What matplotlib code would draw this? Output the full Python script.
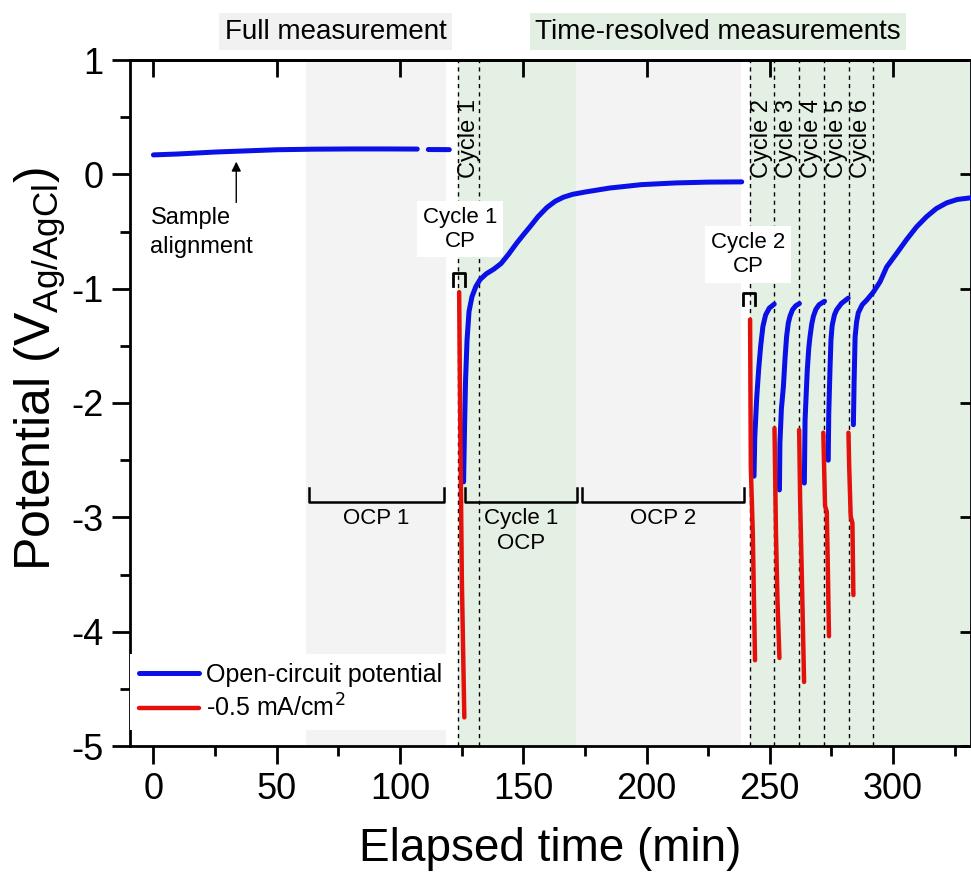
import matplotlib
matplotlib.use("Agg")
import matplotlib.pyplot as plt
from matplotlib.ticker import MultipleLocator, NullLocator

plt.rcParams['font.family'] = ['Liberation Sans', 'DejaVu Sans']
plt.rcParams['axes.unicode_minus'] = False

# --- data (time in min, potential in V vs Ag/AgCl) ---
# OCP during sample alignment (full measurement)
align_t = [0, 10, 25, 40, 50, 65, 80, 95, 107]
align_v = [0.17, 0.178, 0.195, 0.207, 0.215, 0.22, 0.222, 0.222, 0.221]
align2_t = [111.5, 120]
align2_v = [0.217, 0.216]

# OCP after cycle 1 CP, running through OCP 2
ocp1_t = [125.8, 126.2, 126.6, 127.2, 128.0, 129.2, 130.8, 132.5, 135, 138, 141, 144,
          147.4, 150, 152.8, 156, 159.6, 163, 166.3, 170, 175, 185, 198, 212, 225, 238.6]
ocp1_v = [-2.69, -2.2, -1.8, -1.45, -1.2, -1.07, -0.98, -0.92, -0.87, -0.83, -0.78, -0.70,
          -0.60, -0.53, -0.457, -0.37, -0.29, -0.235, -0.20, -0.175, -0.155, -0.12, -0.09,
          -0.075, -0.068, -0.066]
ocp2_t = [243.6, 243.9, 244.7, 245.5, 246.3, 247.2, 248.3, 249.8, 251.8]
ocp2_v = [-2.64, -2.3, -1.95, -1.7, -1.5, -1.33, -1.23, -1.17, -1.135]
ocp3_t = [253.9, 254.1, 254.7, 255.5, 256.2, 256.8, 257.5, 258.2, 259.2, 260.5, 262.0]
ocp3_v = [-2.76, -2.35, -2.05, -1.86, -1.6, -1.42, -1.3, -1.24, -1.185, -1.15, -1.13]
ocp4_t = [264.0, 264.3, 264.8, 265.2, 265.8, 266.3, 267.0, 267.7, 268.7, 270.0, 272.2]
ocp4_v = [-2.70, -2.15, -1.9, -1.71, -1.52, -1.42, -1.31, -1.24, -1.18, -1.14, -1.11]
ocp5_t = [273.7, 273.9, 274.4, 274.8, 275.3, 276.2, 277.1, 279.0, 281.8]
ocp5_v = [-2.50, -2.1, -1.71, -1.45, -1.32, -1.23, -1.185, -1.13, -1.083]
ocp6_t = [283.9, 284.2, 284.6, 285.2, 285.9, 287.5, 289.3, 292.0, 294.7, 297.4, 301.5,
          305.5, 309.5, 313.6, 317.5, 321.7, 326, 331.6]
ocp6_v = [-2.19, -1.8, -1.42, -1.29, -1.21, -1.14, -1.10, -1.03, -0.94, -0.81, -0.69,
          -0.57, -0.46, -0.37, -0.30, -0.25, -0.22, -0.205]

# chronopotentiometry at -0.5 mA/cm2
cp1_t = [124.0, 124.4, 125.1, 126.1]
cp1_v = [-1.03, -2.06, -3.55, -4.75]
cp2_t = [242.0, 242.3, 243.1, 244.0]
cp2_v = [-1.27, -2.56, -3.14, -4.25]
cp3_t = [251.9, 252.5, 253.1, 253.9]
cp3_v = [-2.22, -3.14, -3.72, -4.23]
cp4_t = [261.9, 262.3, 262.9, 263.9]
cp4_v = [-2.235, -2.85, -3.43, -4.44]
cp5_t = [271.7, 272.4, 273.1, 273.5, 274.0]
cp5_v = [-2.26, -2.9, -2.95, -3.4, -4.04]
cp6_t = [281.9, 282.2, 282.8, 283.5, 283.9]
cp6_v = [-2.26, -2.56, -2.99, -3.05, -3.68]

ocp_segments = [(align_t, align_v), (align2_t, align2_v), (ocp1_t, ocp1_v), (ocp2_t, ocp2_v),
                (ocp3_t, ocp3_v), (ocp4_t, ocp4_v), (ocp5_t, ocp5_v), (ocp6_t, ocp6_v)]
cp_segments = [(cp1_t, cp1_v), (cp2_t, cp2_v), (cp3_t, cp3_v),
               (cp4_t, cp4_v), (cp5_t, cp5_v), (cp6_t, cp6_v)]

cycle_edges = [123.6, 132.2, 242.0, 251.7, 261.9, 272.0, 282.1, 291.9]
cycle_names = ['Cycle 1', 'Cycle 2', 'Cycle 3', 'Cycle 4', 'Cycle 5', 'Cycle 6']
gray_spans = [(62, 118.8), (171.5, 238.3)]
green_spans = [(123.6, 171.5), (242.0, 340)]
ocp_brackets = [(63.1, 118.0), (126.5, 171.7), (173.8, 239.5)]
ocp_bracket_labels = ['OCP 1', 'Cycle 1\nOCP', 'OCP 2']
cp_brackets = [(121.7, 126.5, -0.865, -0.98), (239.3, 244.0, -1.04, -1.14)]

BLUE = '#0a10e6'
RED = '#e4100c'

fig = plt.figure(figsize=(9.71, 8.73), dpi=100)
ax = fig.add_axes([130 / 971, 127 / 873, 841 / 971, 686 / 873])

for a, b in gray_spans:
    ax.axvspan(a, b, color='#f3f3f3', lw=0, zorder=0)
for a, b in green_spans:
    ax.axvspan(a, b, color='#e4f0e4', lw=0, zorder=0)
for x in cycle_edges:
    ax.axvline(x, color='k', lw=1, ls=(0, (3, 3)), zorder=1)

for i, (t, v) in enumerate(ocp_segments):
    ax.plot(t, v, color=BLUE, lw=3.6, solid_capstyle='round', zorder=3,
            label='Open-circuit potential' if i == 0 else None)
for i, (t, v) in enumerate(cp_segments):
    ax.plot(t, v, color=RED, lw=3.2, solid_capstyle='round', zorder=7,
            label='-0.5 mA/cm$^{2}$' if i == 0 else None)

# vertical cycle labels
mids = [(cycle_edges[0] + cycle_edges[1]) / 2] + \
       [(cycle_edges[k] + cycle_edges[k + 1]) / 2 for k in range(2, 7)]
for x, name in zip(mids, cycle_names):
    ax.text(x, 0.31, name, rotation=90, ha='center', va='center', fontsize=17, zorder=4)

# OCP brackets below the curves
top, bot = -2.745, -2.87
for (a, b), lab in zip(ocp_brackets, ocp_bracket_labels):
    ax.plot([a, a, b, b], [top, bot, bot, top], color='k', lw=1.8, zorder=4)
    ax.text((a + b) / 2, -2.92, lab, ha='center', va='top', fontsize=16,
            linespacing=1.25, zorder=4)

# CP brackets and labels
for a, b, t, bt in cp_brackets:
    ax.plot([a, a, b, b], [bt, t, t, bt], color='k', lw=2, zorder=4)
box = dict(facecolor='white', edgecolor='none', boxstyle='square,pad=0.25')
ax.text(124.4, -0.48, 'Cycle 1\nCP', ha='center', va='center', fontsize=16,
        linespacing=1.2, bbox=box, zorder=5)
ax.text(241.2, -0.70, 'Cycle 2\nCP', ha='center', va='center', fontsize=16,
        linespacing=1.2, bbox=box, zorder=5)

# sample alignment arrow
ax.annotate('', xy=(33.6, 0.135), xytext=(33.6, -0.27),
            arrowprops=dict(arrowstyle='-|>', color='k', lw=1, mutation_scale=14), zorder=4)
ax.text(-1.2, -0.51, 'Sample\nalignment', ha='left', va='center', fontsize=17,
        linespacing=1.4, zorder=4)

# header labels above the axes
ax.text(73.8, 1.247, 'Full measurement', ha='center', va='center', fontsize=20,
        bbox=dict(facecolor='#f1f1f1', edgecolor='none', boxstyle='square,pad=0.2'),
        clip_on=False)
ax.text(229, 1.247, 'Time-resolved measurements', ha='center', va='center', fontsize=20,
        bbox=dict(facecolor='#e3efe3', edgecolor='none', boxstyle='square,pad=0.2'),
        clip_on=False)

ax.set_xlim(-9.5, 331.6)
ax.set_ylim(-5, 1)
ax.set_xticks([0, 50, 100, 150, 200, 250, 300])
ax.set_yticks([-5, -4, -3, -2, -1, 0, 1])
ax.xaxis.set_minor_locator(MultipleLocator(25))
ax.yaxis.set_minor_locator(MultipleLocator(0.5))
ax.tick_params(which='major', direction='out', length=13, width=2, labelsize=26, pad=6)
ax.tick_params(which='minor', direction='out', length=7, width=2)
for s in ax.spines.values():
    s.set_linewidth(2)

secx = ax.secondary_xaxis('top')
secx.set_xticks([0, 50, 100, 150, 200, 250, 300])
secx.xaxis.set_minor_locator(NullLocator())
secx.tick_params(direction='in', length=12, width=2, labeltop=False)
secx.spines['top'].set_linewidth(2)
secy = ax.secondary_yaxis('right')
secy.set_yticks([-5, -4, -3, -2, -1, 0, 1])
secy.yaxis.set_minor_locator(NullLocator())
secy.tick_params(direction='in', length=8, width=2, labelright=False)

ax.set_xlabel('Elapsed time (min)', fontsize=33, labelpad=14)
ax.set_ylabel(r'Potential (V$_{\mathregular{Ag/AgCl}}$)', fontsize=36)
ax.yaxis.set_label_coords(-0.074, 0.55)

leg = ax.legend(loc='lower left', bbox_to_anchor=(0.0, 16 / 686), borderaxespad=0,
                frameon=True, fancybox=False, facecolor='white', edgecolor='none',
                framealpha=1, fontsize=18, handlelength=2.4, handletextpad=0.3,
                labelspacing=0.3, borderpad=0.35)
leg.set_zorder(6)

fig.savefig('out.png', dpi=100)
